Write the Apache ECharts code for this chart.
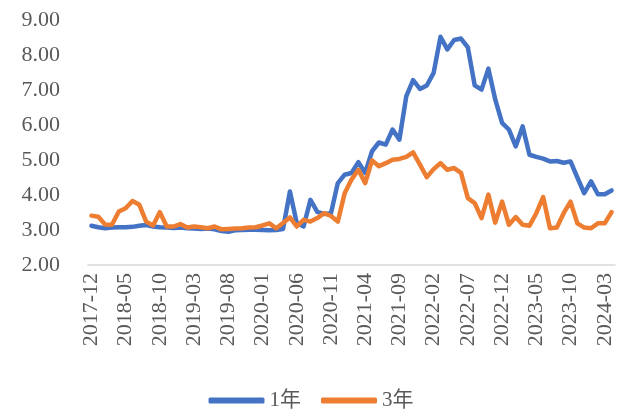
<!DOCTYPE html>
<html>
<head>
<meta charset="utf-8">
<script src="https://cdn.jsdelivr.net/npm/echarts@6/dist/echarts.min.js"></script>
<style>
  html, body { margin: 0; padding: 0; background: #fff; }
  #chart { width: 622px; height: 414px; }
</style>
</head>
<body>
<div id="chart"></div>
<script>
// months, 2017-12 .. 2024-04
var months = [
  '2017-12',
  '2018-01','2018-02','2018-03','2018-04','2018-05','2018-06','2018-07','2018-08','2018-09','2018-10','2018-11','2018-12',
  '2019-01','2019-02','2019-03','2019-04','2019-05','2019-06','2019-07','2019-08','2019-09','2019-10','2019-11','2019-12',
  '2020-01','2020-02','2020-03','2020-04','2020-05','2020-06','2020-07','2020-08','2020-09','2020-10','2020-11','2020-12',
  '2021-01','2021-02','2021-03','2021-04','2021-05','2021-06','2021-07','2021-08','2021-09','2021-10','2021-11','2021-12',
  '2022-01','2022-02','2022-03','2022-04','2022-05','2022-06','2022-07','2022-08','2022-09','2022-10','2022-11','2022-12',
  '2023-01','2023-02','2023-03','2023-04','2023-05','2023-06','2023-07','2023-08','2023-09','2023-10','2023-11','2023-12',
  '2024-01','2024-02','2024-03','2024-04'
];

// 1年
var oneYear = [
  3.12,
  3.08, 3.05, 3.07, 3.08, 3.08, 3.09, 3.12, 3.14, 3.10, 3.08, 3.07, 3.06,
  3.07, 3.05, 3.04, 3.03, 3.04, 3.02, 2.97, 2.95, 2.99, 3.00, 3.01, 3.01,
  3.00, 2.99, 3.00, 3.03, 4.10, 3.20, 3.10, 3.86, 3.52, 3.46, 3.48, 4.34,
  4.58, 4.63, 4.94, 4.63, 5.25, 5.50, 5.44, 5.87, 5.58, 6.82, 7.28, 7.03,
  7.13, 7.49, 8.52, 8.16, 8.43, 8.47, 8.22, 7.13, 7.01, 7.61, 6.73, 6.06,
  5.87, 5.39, 5.96, 5.15, 5.09, 5.04, 4.96, 4.97, 4.92, 4.96, 4.50, 4.05,
  4.39, 4.02, 4.02, 4.13
];

// 3年
var threeYear = [
  3.41,
  3.38, 3.16, 3.15, 3.53, 3.62, 3.83, 3.72, 3.24, 3.13, 3.51, 3.10, 3.10,
  3.17, 3.07, 3.10, 3.08, 3.05, 3.10, 3.02, 3.03, 3.04, 3.05, 3.07, 3.08,
  3.13, 3.19, 3.05, 3.20, 3.36, 3.10, 3.29, 3.24, 3.34, 3.48, 3.40, 3.24,
  4.05, 4.44, 4.72, 4.34, 4.99, 4.82, 4.91, 5.01, 5.03, 5.09, 5.22, 4.87,
  4.51, 4.74, 4.91, 4.72, 4.77, 4.63, 3.91, 3.77, 3.34, 4.01, 3.21, 3.81,
  3.15, 3.37, 3.15, 3.12, 3.48, 3.94, 3.05, 3.07, 3.48, 3.81, 3.19, 3.07,
  3.05, 3.19, 3.19, 3.51
];

var seriesNames = ['1年', '3年'];
var seriesColors = ['#4472C4', '#ED7D31'];

var font = '"Liberation Serif", "Noto Sans CJK SC", serif';

var myChart = echarts.init(document.getElementById('chart'));

myChart.setOption({
  animation: false,
  color: seriesColors,
  grid: {
    left: 88,
    right: 7,
    top: 20,
    bottom: 149
  },
  legend: {
    data: seriesNames,
    top: 385,
    left: 'center',
    icon: 'roundRect',
    itemWidth: 56,
    itemHeight: 6,
    itemGap: 20,
    textStyle: {
      color: '#595959',
      fontSize: 21,
      fontFamily: font
    }
  },
  xAxis: {
    type: 'category',
    data: months,
    boundaryGap: true,
    axisLine: { lineStyle: { color: '#D9D9D9', width: 1.5 } },
    axisTick: { show: false },
    axisLabel: {
      interval: 4,
      rotate: 90,
      margin: 8,
      color: '#595959',
      fontSize: 22,
      fontFamily: font
    }
  },
  yAxis: {
    type: 'value',
    min: 2,
    max: 9,
    interval: 1,
    axisLine: { show: false },
    axisTick: { show: false },
    splitLine: { show: false },
    axisLabel: {
      margin: 28,
      color: '#595959',
      fontSize: 22,
      fontFamily: font,
      formatter: function (v) { return v.toFixed(2); }
    }
  },
  series: [
    {
      name: seriesNames[0],
      type: 'line',
      data: oneYear,
      showSymbol: false,
      lineStyle: { width: 4.5, cap: 'round', join: 'round' }
    },
    {
      name: seriesNames[1],
      type: 'line',
      data: threeYear,
      showSymbol: false,
      lineStyle: { width: 4.5, cap: 'round', join: 'round' }
    }
  ]
});
</script>
</body>
</html>
